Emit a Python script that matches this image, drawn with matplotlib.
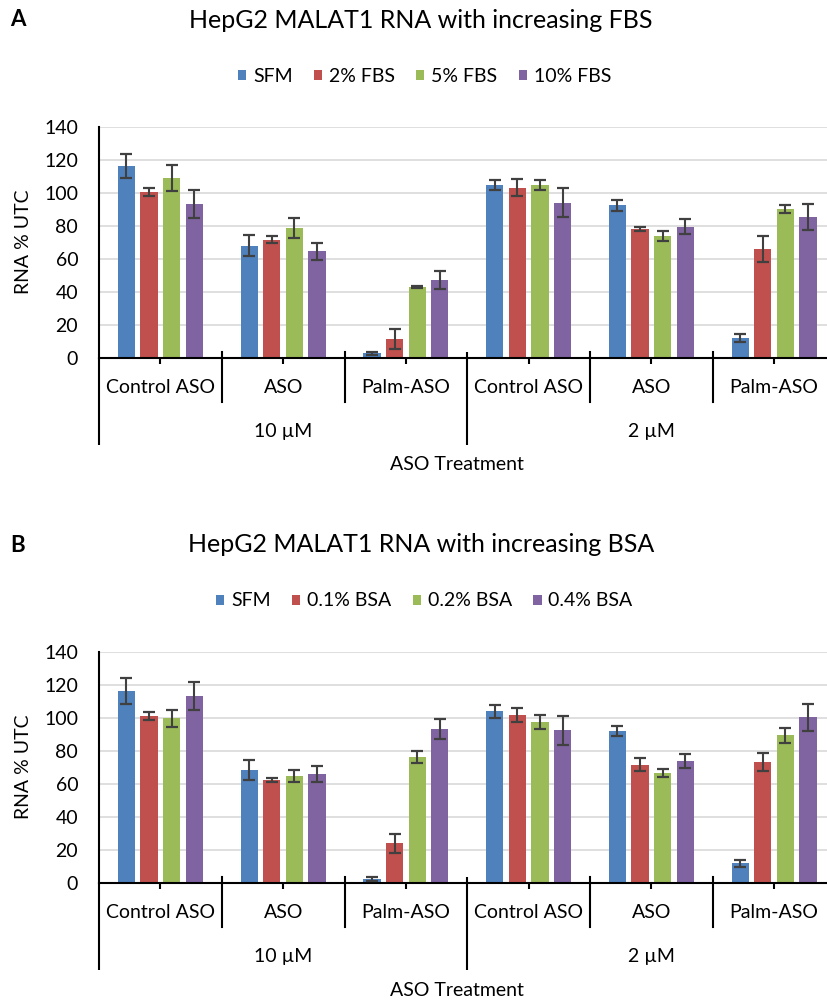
import matplotlib
matplotlib.use("Agg")
import matplotlib.pyplot as plt
import numpy as np
from matplotlib.patches import Patch

plt.rcParams['font.family'] = ['Lato', 'DejaVu Sans']

# ---------------- data ----------------
categories = ["Control ASO", "ASO", "Palm-ASO", "Control ASO", "ASO", "Palm-ASO"]
groups = ["10 \u00b5M", "2 \u00b5M"]
xlabel = "ASO Treatment"
ylabel = "RNA % UTC"
yticks = [0, 20, 40, 60, 80, 100, 120, 140]

titleA = "HepG2 MALAT1 RNA with increasing FBS"
seriesA = ["SFM", "2% FBS", "5% FBS", "10% FBS"]
sfmA = [116.3, 68.1, 3.0, 104.8, 92.5, 12.3]
sfmA_err = [7.5, 6.3, 1.0, 3.2, 3.2, 2.2]
fbs2 = [100.4, 71.8, 11.7, 103.2, 78.2, 66.1]
fbs2_err = [2.3, 2.0, 6.2, 5.1, 1.3, 8.0]
fbs5 = [108.9, 78.8, 43.3, 104.8, 73.8, 90.3]
fbs5_err = [7.8, 6.1, 0.5, 3.3, 3.0, 2.3]
fbs10 = [93.3, 64.7, 47.4, 94.2, 79.6, 85.5]
fbs10_err = [8.7, 5.2, 5.5, 8.7, 4.4, 8.0]

titleB = "HepG2 MALAT1 RNA with increasing BSA"
seriesB = ["SFM", "0.1% BSA", "0.2% BSA", "0.4% BSA"]
sfmB = [116.2, 68.3, 2.6, 103.9, 91.9, 12.1]
sfmB_err = [8.0, 6.1, 1.0, 3.7, 3.0, 2.1]
bsa01 = [101.1, 62.5, 24.1, 101.9, 71.8, 73.4]
bsa01_err = [2.3, 1.4, 5.5, 4.4, 3.7, 5.5]
bsa02 = [99.9, 64.7, 76.2, 97.5, 66.7, 89.6]
bsa02_err = [5.2, 3.7, 3.6, 4.4, 2.2, 4.6]
bsa04 = [113.4, 66.1, 93.3, 92.5, 74.0, 100.3]
bsa04_err = [8.6, 4.9, 5.8, 8.6, 4.4, 8.2]

colors = ["#4F81BD", "#C0504D", "#9BBB59", "#8064A2"]

# ---------------- layout ----------------
W, H = 827, 1002
fig = plt.figure(figsize=(W / 100, H / 100), dpi=100)

ax_left_px, ax_right_px = 99, 835.5
ax_h_px = 231.5

def px_to_frac_y(y):
    return 1 - y / H

def draw_panel(baseline_px, title, series, vals, errs, letter):
    ax = fig.add_axes([ax_left_px / W, (H - baseline_px) / H,
                       (ax_right_px - ax_left_px) / W, ax_h_px / H])
    n = len(categories)
    x = np.arange(n)
    slot = 0.184
    bw = 0.141
    for i, (v, e) in enumerate(zip(vals, errs)):
        pos = x + (i - 1.5) * slot
        ax.bar(pos, v, width=bw, color=colors[i], label=series[i], zorder=2)
        ax.errorbar(pos, v, yerr=e, fmt='none', ecolor='#404040',
                    elinewidth=1.5, capsize=4.5, capthick=1.6, zorder=3)
    ax.set_xlim(-0.5, n - 0.5)
    ax.set_ylim(0, 140)
    ax.set_yticks(yticks)
    ax.set_yticklabels([str(t) for t in yticks], fontsize=14)
    ax.tick_params(axis='y', length=0, pad=15)
    ax.yaxis.grid(True, color='#d9d9d9', linewidth=1.2, zorder=0)
    ax.set_axisbelow(True)
    for s in ['top', 'right']:
        ax.spines[s].set_visible(False)
    ax.spines['left'].set_linewidth(1.5)
    ax.spines['bottom'].set_linewidth(1.5)
    ax.spines['left'].set_color('black')
    ax.spines['bottom'].set_color('black')
    ax.set_xticks(x)
    ax.set_xticklabels([])
    ax.tick_params(axis='x', length=4, width=1.5, direction='out', color='black')

    tr = ax.get_xaxis_transform()
    f = lambda px: px / ax_h_px  # pixel offset to axes fraction
    # category separators
    for b in [0.5, 1.5, 3.5, 4.5]:
        ax.plot([b, b], [f(6), -f(43.5)], color='black', lw=1.5,
                transform=tr, clip_on=False)
    # group separators
    for b in [-0.5, 2.5, 5.5]:
        ax.plot([b, b], [f(6) if b > 0 else 0, -f(87)], color='black', lw=1.5,
                transform=tr, clip_on=False, solid_capstyle='butt')
    for i, c in enumerate(categories):
        ax.text(i, -f(29.7), c, transform=tr, ha='center', va='center', fontsize=14)
    for g, gx in zip(groups, [1, 4]):
        ax.text(gx, -f(73.4), g, transform=tr, ha='center', va='center', fontsize=14)
    fig.text(457 / W, px_to_frac_y(baseline_px + 106.7), xlabel,
             ha='center', va='center', fontsize=14)
    fig.text(24 / W, px_to_frac_y(baseline_px - 116.6), ylabel, rotation=90,
             ha='center', va='center', fontsize=14)
    top = baseline_px - 338.3
    fig.text(421 / W, px_to_frac_y(top), title, ha='center', va='center', fontsize=18)
    fig.text(18 / W, px_to_frac_y(top), letter, ha='center', va='center',
             fontsize=16, fontweight='bold')
    handles = [Patch(facecolor=colors[i], label=series[i]) for i in range(4)]
    fig.legend(handles=handles, loc='center', ncol=4,
               bbox_to_anchor=(424.5 / W, px_to_frac_y(top + 56)),
               frameon=False, fontsize=14, handlelength=0.42, handleheight=0.42,
               handletextpad=0.35, columnspacing=1.1, borderpad=0)
    return ax

draw_panel(358.3, titleA, seriesA, [sfmA, fbs2, fbs5, fbs10],
           [sfmA_err, fbs2_err, fbs5_err, fbs10_err], "A")
draw_panel(883.3, titleB, seriesB, [sfmB, bsa01, bsa02, bsa04],
           [sfmB_err, bsa01_err, bsa02_err, bsa04_err], "B")

fig.savefig("out.png", dpi=100)
